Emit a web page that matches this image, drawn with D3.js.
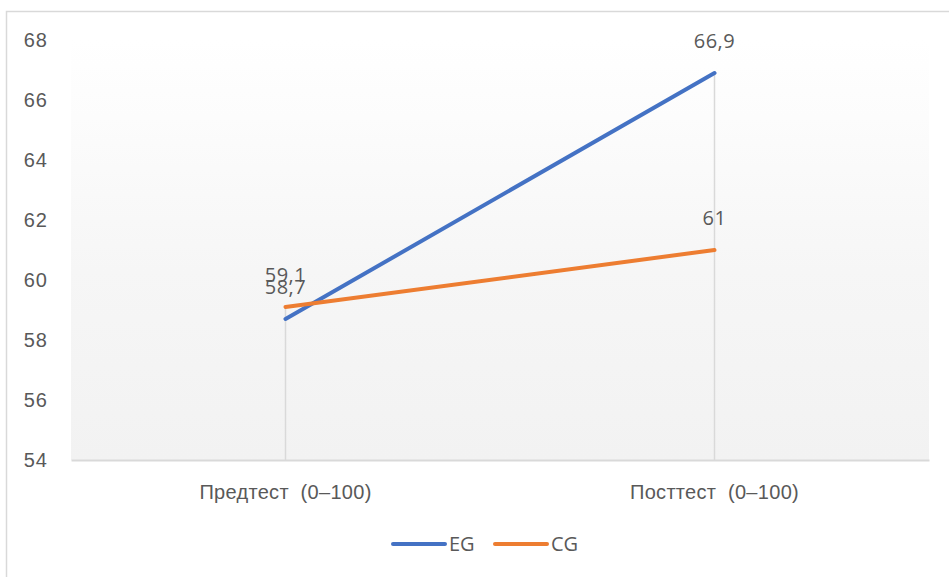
<!DOCTYPE html>
<html>
<head>
<meta charset="utf-8">
<script src="https://cdn.jsdelivr.net/npm/d3@7.9.0/dist/d3.min.js"></script>
<style>
  html, body { margin: 0; padding: 0; background: #fff; }
  svg { display: block; font-family: "Open Sans", "Noto Sans", sans-serif; }
</style>
</head>
<body>
<svg id="chart" width="949" height="577"></svg>
<script>
// -------- data --------
const categories = ['Предтест  (0–100)', 'Посттест  (0–100)'];
const seriesNames = ['EG', 'CG'];
const egValues = [58.7, 66.9];
const cgValues = [59.1, 61];
const yTicks = [54, 56, 58, 60, 62, 64, 66, 68];
const colors = { EG: '#4472C4', CG: '#ED7D31' };

const series = [
  { name: seriesNames[0], values: egValues },
  { name: seriesNames[1], values: cgValues }
];

const width = 949;
const height = 577;
const plot = { left: 71, right: 929, top: 40, bottom: 460 };
const fontSize = '20px';
const textColor = '#595959';

const svg = d3.select('#chart');

// outer frame (only the visible part of the chart border)
svg.append('rect')
  .attr('x', 6.5).attr('y', 11.5)
  .attr('width', width + 10).attr('height', height + 10)
  .attr('fill', '#fff')
  .attr('stroke', '#d9d9d9')
  .attr('stroke-width', 1.5);

// -------- scales --------
const x = d3.scaleBand()
  .domain(categories)
  .range([plot.left, plot.right]);

const y = d3.scaleLinear()
  .domain([54, 68])
  .range([plot.bottom, plot.top]);

// plot area gradient
const defs = svg.append('defs');
const grad = defs.append('linearGradient')
  .attr('id', 'plotGrad')
  .attr('x1', 0).attr('y1', 0).attr('x2', 0).attr('y2', 1);
grad.append('stop').attr('offset', '0%').attr('stop-color', '#ffffff');
grad.append('stop').attr('offset', '55%').attr('stop-color', '#f6f6f6');
grad.append('stop').attr('offset', '100%').attr('stop-color', '#f2f2f2');

svg.append('rect')
  .attr('x', plot.left)
  .attr('y', plot.top)
  .attr('width', plot.right - plot.left)
  .attr('height', plot.bottom - plot.top)
  .attr('fill', 'url(#plotGrad)');

const cx = c => x(c) + x.bandwidth() / 2;

// -------- drop lines --------
svg.append('g')
  .selectAll('line')
  .data(categories)
  .join('line')
  .attr('x1', cx).attr('x2', cx)
  .attr('y1', (c, i) => y(d3.max(series, s => s.values[i])))
  .attr('y2', plot.bottom)
  .attr('stroke', '#d9d9d9')
  .attr('stroke-width', 1.5);

// -------- axes --------
const yAxis = svg.append('g')
  .attr('transform', `translate(48, 0)`)
  .call(d3.axisLeft(y).tickValues(yTicks).tickSize(0).tickPadding(0));
yAxis.select('.domain').remove();
yAxis.selectAll('text')
  .attr('fill', textColor)
  .style('font-size', fontSize)
  .style('letter-spacing', '1px');

const xAxis = svg.append('g')
  .attr('transform', `translate(0, ${plot.bottom})`)
  .call(d3.axisBottom(x).tickSize(0).tickPadding(33));
xAxis.select('.domain')
  .attr('stroke', '#d9d9d9')
  .attr('stroke-width', 2);
xAxis.selectAll('text')
  .attr('fill', textColor)
  .style('font-size', fontSize)
  .style('white-space', 'pre')
  .style('letter-spacing', '0.3px')
  .attr('dy', '0.32em');

// -------- lines --------
const line = d3.line()
  .x((v, i) => cx(categories[i]))
  .y(v => y(v));

svg.append('g')
  .selectAll('path')
  .data(series)
  .join('path')
  .attr('d', s => line(s.values))
  .attr('fill', 'none')
  .attr('stroke', s => colors[s.name])
  .attr('stroke-width', 4)
  .attr('stroke-linecap', 'round');

// -------- data labels --------
const fmt = v => String(v).replace('.', ',');
const labels = svg.append('g')
  .attr('fill', textColor)
  .style('font-size', fontSize)
  .style('letter-spacing', '0.5px')
  .attr('text-anchor', 'middle');
series.forEach(s => {
  s.values.forEach((v, i) => {
    labels.append('text')
      .attr('x', cx(categories[i]))
      .attr('y', y(v) - 25)
      .text(fmt(v));
  });
});

// -------- legend --------
const legend = svg.append('g').attr('transform', 'translate(392, 544)');
const items = [{ name: seriesNames[0], x: 0 }, { name: seriesNames[1], x: 102 }];
items.forEach(it => {
  legend.append('line')
    .attr('x1', it.x + 1).attr('x2', it.x + 53)
    .attr('y1', 0).attr('y2', 0)
    .attr('stroke', colors[it.name])
    .attr('stroke-width', 4)
    .attr('stroke-linecap', 'round');
  legend.append('text')
    .attr('x', it.x + 57)
    .attr('y', 0)
    .attr('dy', '0.35em')
    .attr('fill', textColor)
    .style('font-size', fontSize)
    .text(it.name);
});
</script>
</body>
</html>
